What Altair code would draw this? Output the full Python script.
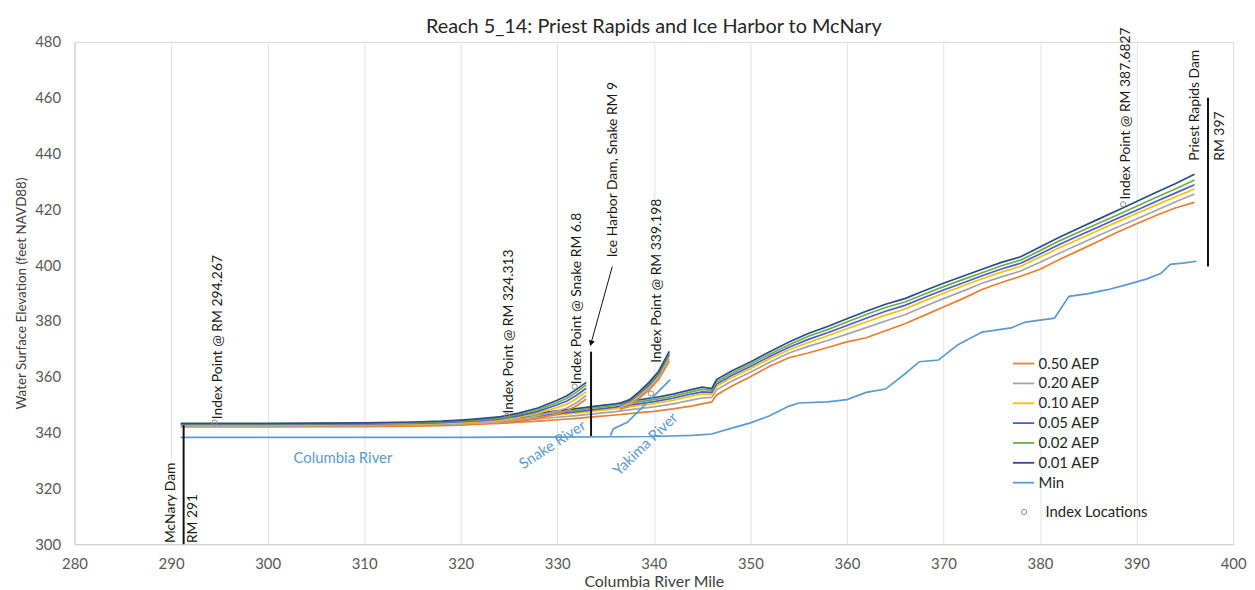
import altair as alt
import pandas as pd

SERIES = ["0.50 AEP", "0.20 AEP", "0.10 AEP", "0.05 AEP", "0.02 AEP", "0.01 AEP", "Min"]
COLORS = ["#ED7D31", "#A5A5A5", "#FFC000", "#4A5BDC", "#70AD47", "#2B4C8C", "#5B9BD5"]

# ---- Columbia River main profile ----
main_mile = [291, 295, 300, 305, 310, 315, 318, 320, 322, 324, 326, 328, 330, 332, 334, 336, 338, 340,
             342, 344, 345, 346, 346.5, 348, 350, 352, 354, 356, 358, 360, 362, 364, 366, 368, 370,
             372, 374, 376, 378, 380, 382, 384, 386, 388, 390, 392, 394, 396]
main_p01 = [343.3, 343.3, 343.3, 343.4, 343.5, 343.8, 344.1, 344.5, 345.0, 345.6, 346.3, 347.0, 347.8, 348.6,
            349.5, 350.3, 351.5, 352.5, 353.8, 355.5, 356.3, 355.8, 359.0, 362.0, 365.3, 369.0, 372.5,
            375.5, 378.0, 380.8, 383.5, 386.0, 388.0, 390.8, 393.5, 396.0, 398.5, 401.0, 403.0, 406.5,
            410.0, 413.2, 416.4, 419.6, 422.8, 426.0, 429.2, 432.6]
main_p02 = [343.1, 343.1, 343.1, 343.2, 343.3, 343.5, 343.8, 344.2, 344.6, 345.2, 345.8, 346.5, 347.2, 348.0,
            348.9, 349.7, 350.8, 351.8, 353.0, 354.7, 355.5, 355.1, 358.2, 361.2, 364.5, 368.1, 371.5,
            374.5, 376.9, 379.6, 382.3, 384.8, 386.8, 389.6, 392.3, 394.8, 397.3, 399.8, 401.8, 405.2,
            408.7, 411.8, 414.9, 418.0, 421.1, 424.2, 427.3, 430.5]
main_p05 = [342.9, 342.9, 342.9, 343.0, 343.1, 343.3, 343.6, 343.9, 344.3, 344.8, 345.4, 346.0, 346.7, 347.5,
            348.3, 349.1, 350.1, 351.1, 352.3, 353.9, 354.6, 354.4, 357.4, 360.4, 363.7, 367.3, 370.6,
            373.4, 375.8, 378.4, 381.0, 383.5, 385.6, 388.4, 391.1, 393.6, 396.2, 398.6, 400.7, 404.0,
            407.4, 410.5, 413.6, 416.7, 419.7, 422.8, 425.8, 428.8]
main_p10 = [342.7, 342.7, 342.7, 342.8, 342.9, 343.1, 343.3, 343.6, 344.0, 344.5, 345.0, 345.6, 346.3, 347.0,
            347.8, 348.5, 349.5, 350.4, 351.6, 353.1, 353.8, 353.8, 356.6, 359.6, 362.9, 366.5, 369.7,
            372.3, 374.7, 377.2, 379.6, 382.1, 384.3, 387.2, 389.9, 392.5, 395.1, 397.5, 399.6, 402.9,
            406.2, 409.3, 412.4, 415.5, 418.5, 421.5, 424.4, 427.3]
main_p20 = [342.4, 342.4, 342.4, 342.5, 342.5, 342.7, 342.9, 343.2, 343.5, 343.9, 344.4, 344.9, 345.5, 346.1,
            346.8, 347.5, 348.4, 349.2, 350.3, 351.7, 352.4, 352.6, 355.3, 358.3, 361.6, 365.2, 368.5,
            370.9, 373.0, 375.3, 377.6, 380.0, 382.2, 385.2, 388.0, 390.7, 393.5, 395.8, 397.9, 401.0,
            404.3, 407.4, 410.5, 413.6, 416.5, 419.6, 422.6, 425.5]
main_p50 = [342.0, 342.0, 342.0, 342.1, 342.1, 342.3, 342.5, 342.7, 343.0, 343.3, 343.7, 344.1, 344.6, 345.1,
            345.7, 346.3, 347.0, 347.6, 348.5, 349.6, 350.3, 351.0, 353.5, 356.5, 360.0, 363.8, 366.8,
            368.5, 370.5, 372.5, 374.0, 376.5, 379.0, 382.0, 385.0, 388.0, 391.3, 393.8, 396.0, 398.5,
            402.0, 405.2, 408.5, 411.8, 414.8, 417.8, 420.5, 422.5]

min_mile = [291, 300, 310, 320, 330, 340, 344, 346, 348, 350, 352, 354, 355, 358, 360, 362, 364, 366,
            367.5, 369.5, 371.5, 374, 377, 378.5, 381.5, 383, 385, 387, 389, 391, 392.5, 393.5, 395, 396.2]
min_elev = [338.3, 338.3, 338.3, 338.3, 338.4, 338.6, 339.0, 339.5, 341.5, 343.5, 346.0, 349.5, 350.6,
            351.0, 351.8, 354.4, 355.6, 361.0, 365.4, 366.0, 371.5, 376.0, 377.5, 379.6, 381.0, 388.8,
            389.8, 391.2, 393.0, 395.0, 397.0, 400.3, 400.8, 401.4]

# ---- Snake River branch ----
snake_mile = [324, 326, 328, 330, 331, 332, 333]
snake_p01 = [345.6, 347.0, 348.8, 351.6, 353.2, 355.5, 358.0]
snake_p02 = [345.2, 346.5, 348.2, 350.8, 352.3, 354.5, 357.1]
snake_p05 = [344.8, 346.0, 347.6, 350.0, 351.3, 353.4, 355.9]
snake_p10 = [344.5, 345.5, 347.0, 349.0, 350.2, 352.2, 354.6]
snake_p20 = [343.9, 344.7, 346.1, 347.7, 348.8, 350.7, 353.3]
snake_p50 = [343.3, 344.0, 345.2, 346.6, 347.8, 349.6, 352.0]

# ---- Yakima River branch ----
yak_mile = [336.5, 337.5, 338.5, 339.5, 340.5, 341.6]
yak_p01 = [350.5, 351.8, 354.7, 358.0, 362.0, 369.1]
yak_p02 = [350.2, 351.5, 354.3, 357.5, 361.5, 368.5]
yak_p05 = [349.9, 351.2, 354.0, 357.0, 361.0, 368.0]
yak_p10 = [349.6, 350.9, 353.6, 356.6, 360.5, 367.4]
yak_p20 = [349.0, 350.3, 353.1, 356.0, 359.8, 366.5]
yak_p50 = [348.3, 349.6, 352.4, 355.2, 359.0, 365.6]
yak_min_mile = [335.5, 335.8, 337.3, 338.1, 339.5, 341.7]
yak_min_elev = [338.9, 341.3, 343.8, 346.6, 351.4, 359.0]

# ---- Index locations ----
idx_mile = [294.5, 324.8, 331.8, 339.7, 388.6]
idx_elev = [343.6, 346.0, 356.5, 354.0, 421.8]

# ---- Annotations ----
ann_text = ["Index Point @ RM 294.267", "Index Point @ RM 324.313", "Index Point @ Snake RM 6.8",
            "Ice Harbor Dam, Snake RM 9", "Index Point @ RM 339.198", "Index Point @ RM 387.6827",
            "Priest Rapids Dam", "RM 397", "McNary Dam", "RM 291"]
ann_mile = [294.9, 325.0, 332.0, 335.8, 340.3, 388.9, 396.1, 398.6, 290.0, 292.3]
ann_elev = [344.8, 346.8, 357.3, 402.8, 365.0, 423.5, 437.4, 437.4, 300.4, 300.4]

struct_mile = [291.3, 333.5, 397.4]
struct_low = [300.0, 338.8, 399.5]
struct_high = [342.7, 369.0, 460.0]

arrow_mile = [335.7]
arrow_elev = [399.5]
arrow_mile2 = [333.5]
arrow_elev2 = [372.0]

river_text = ["Columbia River", "Snake River", "Yakima River"]
river_mile = [307.8, 329.5, 339.1]
river_elev = [331.0, 335.7, 335.9]
river_angle = [0, 327, 316]

# ---- build tables ----
rows = []
def add(series, seg, miles, elevs):
    for m, e in zip(miles, elevs):
        rows.append({"series": series, "seg": seg, "mile": m, "elev": e})

for name, ys in zip(SERIES[:6], [main_p50, main_p20, main_p10, main_p05, main_p02, main_p01]):
    add(name, "main", main_mile, ys)
for name, ys in zip(SERIES[:6], [snake_p50, snake_p20, snake_p10, snake_p05, snake_p02, snake_p01]):
    add(name, "snake", snake_mile, ys)
for name, ys in zip(SERIES[:6], [yak_p50, yak_p20, yak_p10, yak_p05, yak_p02, yak_p01]):
    add(name, "yakima", yak_mile, ys)
add("Min", "main", min_mile, min_elev)
add("Min", "yakima", yak_min_mile, yak_min_elev)
df_lines = pd.DataFrame(rows)

df_idx = pd.DataFrame({"mile": idx_mile, "elev": idx_elev, "label": ["Index Locations"] * len(idx_mile)})
df_ann = pd.DataFrame({"text": ann_text, "mile": ann_mile, "elev": ann_elev})
df_struct = pd.DataFrame({"mile": struct_mile, "low": struct_low, "high": struct_high})
df_arrow = pd.DataFrame({"mile": arrow_mile, "elev": arrow_elev, "mile2": arrow_mile2, "elev2": arrow_elev2})
df_head = pd.DataFrame({"mile": arrow_mile2, "elev": arrow_elev2})
df_river = pd.DataFrame({"text": river_text, "mile": river_mile, "elev": river_elev, "angle": river_angle})

FONT = "Lato"
xscale = alt.Scale(domain=[280, 400], nice=False, zero=False)
yscale = alt.Scale(domain=[300, 480], nice=False, zero=False)

X = alt.X("mile:Q", scale=xscale,
          axis=alt.Axis(values=list(range(280, 401, 10)), title="Columbia River Mile", grid=True,
                        gridColor="#E3E3E3", ticks=False, labelPadding=12, titlePadding=3,
                        domainColor="#D0D0D0", labelFlush=False, titleFontSize=16))
Y = alt.Y("elev:Q", scale=yscale,
          axis=alt.Axis(values=list(range(300, 481, 20)), title="Water Surface Elevation (feet NAVD88)",
                        grid=False, ticks=False, labelPadding=14, titlePadding=6, domainColor="#D0D0D0",
                        titleFontSize=13.5))

lines = alt.Chart(df_lines).mark_line(strokeWidth=1.7).encode(
    x=X, y=Y,
    color=alt.Color("series:N", scale=alt.Scale(domain=SERIES, range=COLORS),
                    legend=alt.Legend(title=None, orient="none", legendX=944, legendY=312,
                                      symbolType="stroke", symbolSize=462, symbolStrokeWidth=1.8,
                                      labelFont=FONT, labelFontSize=15, labelColor="#262626",
                                      rowPadding=0, labelOffset=3, padding=0)),
    detail="seg:N",
)

structs = alt.Chart(df_struct).mark_rule(color="#111111", strokeWidth=2).encode(
    x="mile:Q", y="low:Q", y2="high:Q")

arrow = alt.Chart(df_arrow).mark_rule(color="#111111", strokeWidth=1).encode(
    x="mile:Q", y="elev:Q", x2="mile2:Q", y2="elev2:Q")
head = alt.Chart(df_head).mark_point(shape="triangle-up", filled=True, color="#111111", size=40,
                                     angle=196, opacity=1).encode(x="mile:Q", y="elev:Q")

idx = alt.Chart(df_idx).mark_point(filled=False, size=28, color="#8C8C8C", strokeWidth=1, opacity=1).encode(
    x="mile:Q", y="elev:Q",
    shape=alt.Shape("label:N", scale=alt.Scale(domain=["Index Locations"], range=["circle"]),
                    legend=alt.Legend(title=None, orient="none", legendX=949, legendY=466,
                                      symbolSize=28, symbolStrokeColor="#8C8C8C", symbolFillColor="white",
                                      symbolStrokeWidth=1, labelFont=FONT, labelFontSize=15,
                                      labelColor="#262626", labelOffset=14, padding=0)),
)

ann = alt.Chart(df_ann).mark_text(angle=270, align="left", baseline="middle", font=FONT, fontSize=14,
                                  color="#1A1A1A").encode(x="mile:Q", y="elev:Q", text="text:N")

rivers = alt.Chart(df_river).mark_text(align="center", baseline="middle", font=FONT, fontSize=15,
                                       color="#5B9BD5").encode(
    x="mile:Q", y="elev:Q", text="text:N", angle=alt.Angle("angle:Q", scale=None))

chart = alt.layer(lines, structs, arrow, head, idx, ann, rivers).properties(
    width=1167, height=506,
    padding={"left": 6, "top": 7, "right": 0, "bottom": 0},
    title=alt.TitleParams("Reach 5_14: Priest Rapids and Ice Harbor to McNary", font=FONT, fontSize=20,
                          fontWeight="normal", color="#262626", anchor="middle", frame="group", offset=-10),
).configure_axis(
    labelFont=FONT, labelFontSize=15, labelColor="#595959", titleFont=FONT,
    titleFontWeight="normal", titleColor="#404040",
).configure_view(stroke="#D9D9D9").resolve_scale(color="independent")

chart.save("out.html", embed_options={"renderer": "svg", "actions": False})
